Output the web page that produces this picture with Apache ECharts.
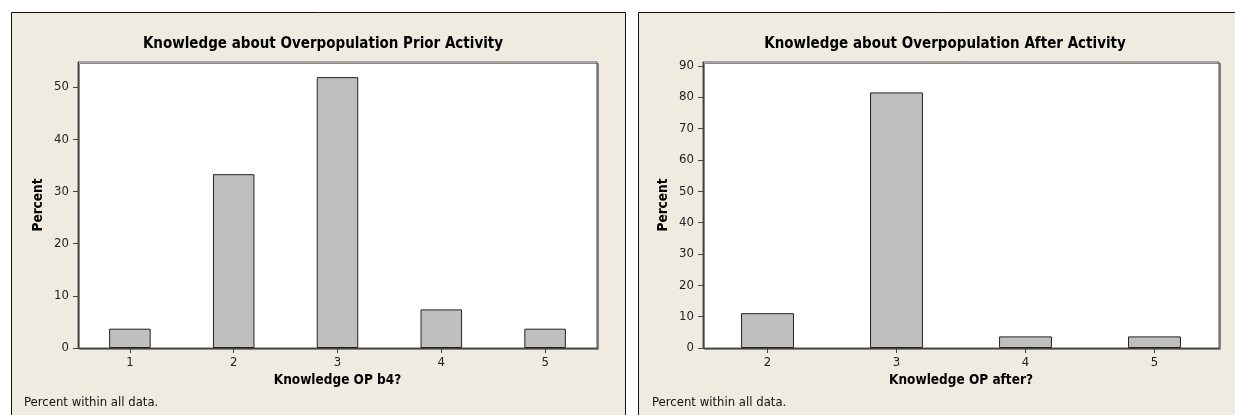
<!DOCTYPE html>
<html>
<head>
<meta charset="utf-8">
<script src="https://cdn.jsdelivr.net/npm/echarts@6/dist/echarts.min.js"></script>
<style>
html,body{margin:0;padding:0;background:#ffffff;}
#chart{width:1235px;height:415px;}
</style>
</head>
<body>
<div id="chart"></div>
<script>
// ---- data ----
const catsBefore = ['1', '2', '3', '4', '5'];
const pctBefore = [3.7, 33.3, 51.9, 7.4, 3.7];
const catsAfter = ['2', '3', '4', '5'];
const pctAfter = [11.1, 81.5, 3.7, 3.7];
const ticksBefore = [0, 10, 20, 30, 40, 50];
const ticksAfter = [0, 10, 20, 30, 40, 50, 60, 70, 80, 90];
const titleBefore = 'Knowledge about Overpopulation Prior Activity';
const titleAfter = 'Knowledge about Overpopulation After Activity';
const xNameBefore = 'Knowledge OP b4?';
const xNameAfter = 'Knowledge OP after?';
const yName = 'Percent';
const footnote = 'Percent within all data.';

const FONT = 'Tahoma, "DejaVu Sans Condensed", "DejaVu Sans", sans-serif';
const PANEL = '#EFEBE1';

const chart = echarts.init(document.getElementById('chart'), null, {renderer: 'canvas'});

function yAxis(idx, max, ticks) {
  return {
    type: 'value', gridIndex: idx, min: 0, max: max,
    name: yName, nameLocation: 'middle', nameGap: 33,
    nameTextStyle: {fontFamily: FONT, fontWeight: 'bold', fontSize: 13.5, color: '#000'},
    axisLine: {show: true, lineStyle: {color: '#444', width: 1}},
    axisTick: {show: true, length: 5, lineStyle: {color: '#444'}, customValues: ticks},
    axisLabel: {fontFamily: FONT, fontSize: 13, color: '#222', margin: 9, customValues: ticks},
    splitLine: {show: false}
  };
}
function xAxis(idx, cats, name) {
  return {
    type: 'category', gridIndex: idx, data: cats,
    name: name, nameLocation: 'middle', nameGap: 25,
    nameTextStyle: {fontFamily: FONT, fontWeight: 'bold', fontSize: 13.5, color: '#000'},
    axisLine: {show: true, lineStyle: {color: '#444', width: 1}},
    axisTick: {show: true, alignWithLabel: true, length: 5, lineStyle: {color: '#444'}},
    axisLabel: {fontFamily: FONT, fontSize: 13, color: '#222', margin: 8},
    splitLine: {show: false}
  };
}
const barStyle = {color: '#BFBFBF', borderColor: '#222', borderWidth: 1};

chart.setOption({
  animation: false,
  backgroundColor: '#ffffff',
  graphic: [
    {type: 'rect', z: -10, shape: {x: 11.5, y: 12.5, width: 614, height: 420},
     style: {fill: PANEL, stroke: '#111', lineWidth: 1}},
    {type: 'rect', z: -10, shape: {x: 638.5, y: 12.5, width: 620, height: 420},
     style: {fill: PANEL, stroke: '#111', lineWidth: 1}},
    {type: 'text', left: 24, top: 396,
     style: {text: footnote, font: '13px ' + FONT, fill: '#111'}},
    {type: 'text', left: 652, top: 396,
     style: {text: footnote, font: '13px ' + FONT, fill: '#111'}}
  ],
  title: [
    {text: titleBefore, left: 318, top: 32, textAlign: 'center',
     textStyle: {fontFamily: FONT, fontWeight: 'bold', fontSize: 15, color: '#000'}},
    {text: titleAfter, left: 940, top: 32, textAlign: 'center',
     textStyle: {fontFamily: FONT, fontWeight: 'bold', fontSize: 15, color: '#000'}}
  ],
  grid: [
    {left: 78, top: 62, width: 519, height: 286, show: true, backgroundColor: '#fff',
     borderColor: '#555', borderWidth: 1, shadowColor: '#888', shadowOffsetX: 1.5, shadowOffsetY: 1.5, shadowBlur: 0},
    {left: 703, top: 62, width: 516, height: 286, show: true, backgroundColor: '#fff',
     borderColor: '#555', borderWidth: 1, shadowColor: '#888', shadowOffsetX: 1.5, shadowOffsetY: 1.5, shadowBlur: 0}
  ],
  xAxis: [xAxis(0, catsBefore, xNameBefore), xAxis(1, catsAfter, xNameAfter)],
  yAxis: [yAxis(0, 54.8, ticksBefore), yAxis(1, 91.2, ticksAfter)],
  series: [
    {type: 'bar', xAxisIndex: 0, yAxisIndex: 0, data: pctBefore, barWidth: '40%', itemStyle: barStyle},
    {type: 'bar', xAxisIndex: 1, yAxisIndex: 1, data: pctAfter, barWidth: '41%', itemStyle: barStyle}
  ]
});
</script>
</body>
</html>
